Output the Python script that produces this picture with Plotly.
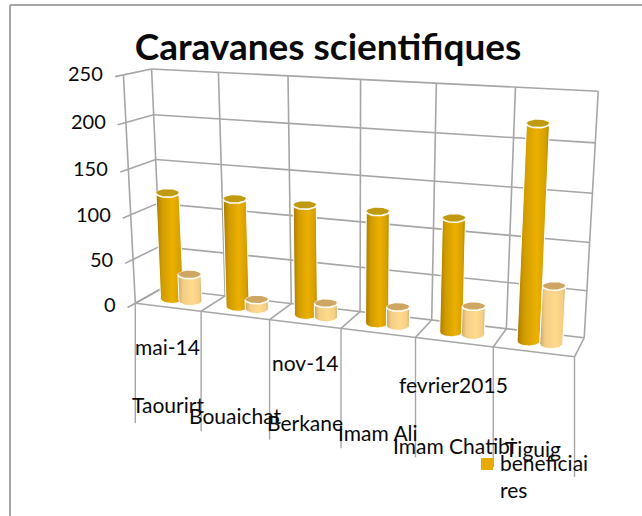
import numpy as np
import plotly.graph_objects as go

# ---------- data ----------
title_text = "Caravanes scientifiques"
places = ["Taourirt", "Bouaichat", "Berkane", "Imam Ali", "Imam Chatibi", "Tiguig"]
dates = ["mai-14", "", "nov-14", "", "fevrier2015", ""]
beneficiaires = [120, 120, 120, 120, 120, 220]
second_series = [30, 10, 15, 20, 30, 60]
value_ticks = [0, 50, 100, 150, 200, 250]
legend_label = "beneficiai<br>res"

# ---------- oblique 3D projection, calibrated on the chart box ----------
FRONT_FLOOR = [(136, 302), (200.7, 311.5), (270, 320), (341, 328), (415, 338), (493, 347), (575, 357)]
BACK_FLOOR = [(161, 291), (224, 295), (292, 302), (361, 311), (432, 320), (507, 330), (583, 337)]
BACK_TOP = [(152, 69), (219, 72), (288, 76), (360, 79), (436, 84), (515, 87), (599, 91)]
BOX = [((0, 0, 250), (123, 75))]
for i in range(7):
    BOX += [((i, 0, 0), FRONT_FLOOR[i]), ((i, 1, 0), BACK_FLOOR[i]), ((i, 1, 250), BACK_TOP[i])]
A, b = [], []
for (X, Y, Z), (u, v) in BOX:
    A.append([X, Y, Z, 1, 0, 0, 0, 0, -u * X, -u * Y, -u * Z]); b.append(u)
    A.append([0, 0, 0, 0, X, Y, Z, 1, -v * X, -v * Y, -v * Z]); b.append(v)
P = np.append(np.linalg.lstsq(np.array(A, float), np.array(b, float), rcond=None)[0], 1).reshape(3, 4)


def proj(X, Y, Z):
    X, Y, Z = np.broadcast_arrays(np.asarray(X, float), np.asarray(Y, float), np.asarray(Z, float))
    h = P @ np.vstack([X.ravel(), Y.ravel(), Z.ravel(), np.ones(X.size)])
    return h[0] / h[2], h[1] / h[2]


GRID = "#a6a6a6"
TEXT = "#0a0a0a"
fig = go.Figure()


def add_lines(segments, color=GRID, width=1.6):
    xs, ys = [], []
    for a, c in segments:
        u, v = proj([a[0], c[0]], [a[1], c[1]], [a[2], c[2]])
        xs += [u[0], u[1], None]
        ys += [v[0], v[1], None]
    fig.add_trace(go.Scatter(x=xs, y=ys, mode="lines", line=dict(color=color, width=width),
                             hoverinfo="skip", showlegend=False))


top = value_ticks[-1]
n = len(places)
segs = []
for z in value_ticks:
    segs.append(((0, 1, z), (n, 1, z)))       # back wall
    segs.append(((0, 0, z), (0, 1, z)))       # side wall
    segs.append(((0, -0.28, z), (0, 0, z)))   # tick marks
for i in range(n + 1):
    segs.append(((i, 1, 0), (i, 1, top)))     # back wall verticals
    segs.append(((i, 0, 0), (i, 1, 0)))       # floor
segs.append(((0, 0, 0), (n, 0, 0)))
segs.append(((0, 0, 0), (0, 0, top)))
add_lines(segs)

# category dividers hang straight down from the front edge of the floor
dx, dy = [], []
for i in range(n + 1):
    u, v = proj(i, 0, 0)
    dx += [u[0], u[0], None]
    dy += [v[0], v[0] + 120, None]
fig.add_trace(go.Scatter(x=dx, y=dy, mode="lines", line=dict(color=GRID, width=1.4),
                         hoverinfo="skip", showlegend=False))


def cylinder(cx, value, stops, top_color):
    half_w, cy = 11.5, 0.5
    t_lo = np.linspace(np.pi, 0, 25)       # left to right across the front
    t_hi = np.linspace(0, np.pi, 25)       # right to left across the back
    bcx, bcy = proj(cx, cy, 0)
    tcx, tcy = proj(cx, cy, value)
    bcx, bcy, tcx, tcy = bcx[0], bcy[0], tcx[0], tcy[0]
    bb, tb = 5.0, 4.0
    lx = bcx + half_w * np.cos(t_lo)
    ly = bcy + bb * np.sin(t_lo)
    ux = tcx + half_w * np.cos(t_hi)
    uy = tcy - tb * np.sin(t_hi)
    px = list(lx) + list(ux) + [lx[0]]
    py = list(ly) + list(uy) + [ly[0]]
    fig.add_trace(go.Scatter(x=px, y=py, mode="lines", line=dict(color="#ffffff", width=1),
                             fill="toself",
                             fillgradient=dict(type="horizontal", colorscale=stops),
                             hoverinfo="skip", showlegend=False))
    t = np.linspace(0, 2 * np.pi, 49)
    fig.add_trace(go.Scatter(x=tcx + half_w * np.cos(t), y=tcy + tb * np.sin(t), mode="lines",
                             line=dict(width=0, color=top_color),
                             fill="toself", fillcolor=top_color,
                             hoverinfo="skip", showlegend=False))
    fig.add_trace(go.Scatter(x=tcx + half_w * np.cos(t_lo), y=tcy + tb * np.sin(t_lo), mode="lines",
                             line=dict(color="#fffdf5", width=1.6),
                             hoverinfo="skip", showlegend=False))


GOLD = [[0, "#a87a00"], [0.22, "#d09c00"], [0.6, "#ecb000"], [0.88, "#d6a000"], [1, "#b08400"]]
PALE = [[0, "#c8a468"], [0.2, "#f2cd85"], [0.6, "#ffd98c"], [0.88, "#f4d084"], [1, "#d0ae70"]]
for i in range(n):
    cylinder(i + 0.365, beneficiaires[i], GOLD, "#c09a10")
    cylinder(i + 0.65, second_series[i], PALE, "#cfa763")

# value labels
for z in value_ticks:
    u, v = proj(0, -0.28, z)
    fig.add_annotation(x=u[0] - 10, y=v[0] - 4, text=str(z), showarrow=False, xanchor="right", yanchor="middle",
                       font=dict(family="Lato", size=20, color=TEXT))

# category labels (two levels)
place_nudge = [0, 3, 2, 3, 6, 0]
date_nudge = [0, 0, 0, 0, 3, 0]
for i in range(n):
    u, v = proj(i + 0.5, 0, 0)
    if dates[i]:
        fig.add_annotation(x=u[0], y=v[0] + 39 + date_nudge[i], text=dates[i], showarrow=False,
                           font=dict(family="Lato", size=21, color=TEXT))
    fig.add_annotation(x=u[0], y=v[0] + 97 + place_nudge[i], text=places[i], showarrow=False,
                       font=dict(family="Lato", size=21, color=TEXT))

# legend swatch and label
fig.add_trace(go.Scatter(x=[487], y=[464], mode="markers", hoverinfo="skip", showlegend=False,
                         marker=dict(symbol="square", size=12, color="#e8ab00")))
fig.add_annotation(x=498, y=476, text=legend_label, showarrow=False, xanchor="left", yanchor="middle", align="left",
                   font=dict(family="Lato", size=21, color=TEXT))

fig.update_layout(
    width=642, height=516, margin=dict(l=0, r=0, t=0, b=0),
    paper_bgcolor="white", plot_bgcolor="white", showlegend=False,
    title=dict(text=title_text, x=328 / 642, y=1 - 47 / 516, xanchor="center", yanchor="middle",
               font=dict(family="Lato", size=37, color=TEXT, weight="bold")),
    xaxis=dict(range=[0, 642], visible=False, fixedrange=True),
    yaxis=dict(range=[516, 0], visible=False, fixedrange=True),
    shapes=[dict(type="line", xref="x", yref="y", x0=10, x1=10, y0=5, y1=516, line=dict(color=GRID, width=2)),
            dict(type="line", xref="x", yref="y", x0=10, x1=642, y0=5, y1=5, line=dict(color=GRID, width=2))],
)
fig.write_html("out.html", config=dict(displayModeBar=False),
               post_script="document.body.style.margin='0';document.body.style.overflow='hidden';")
